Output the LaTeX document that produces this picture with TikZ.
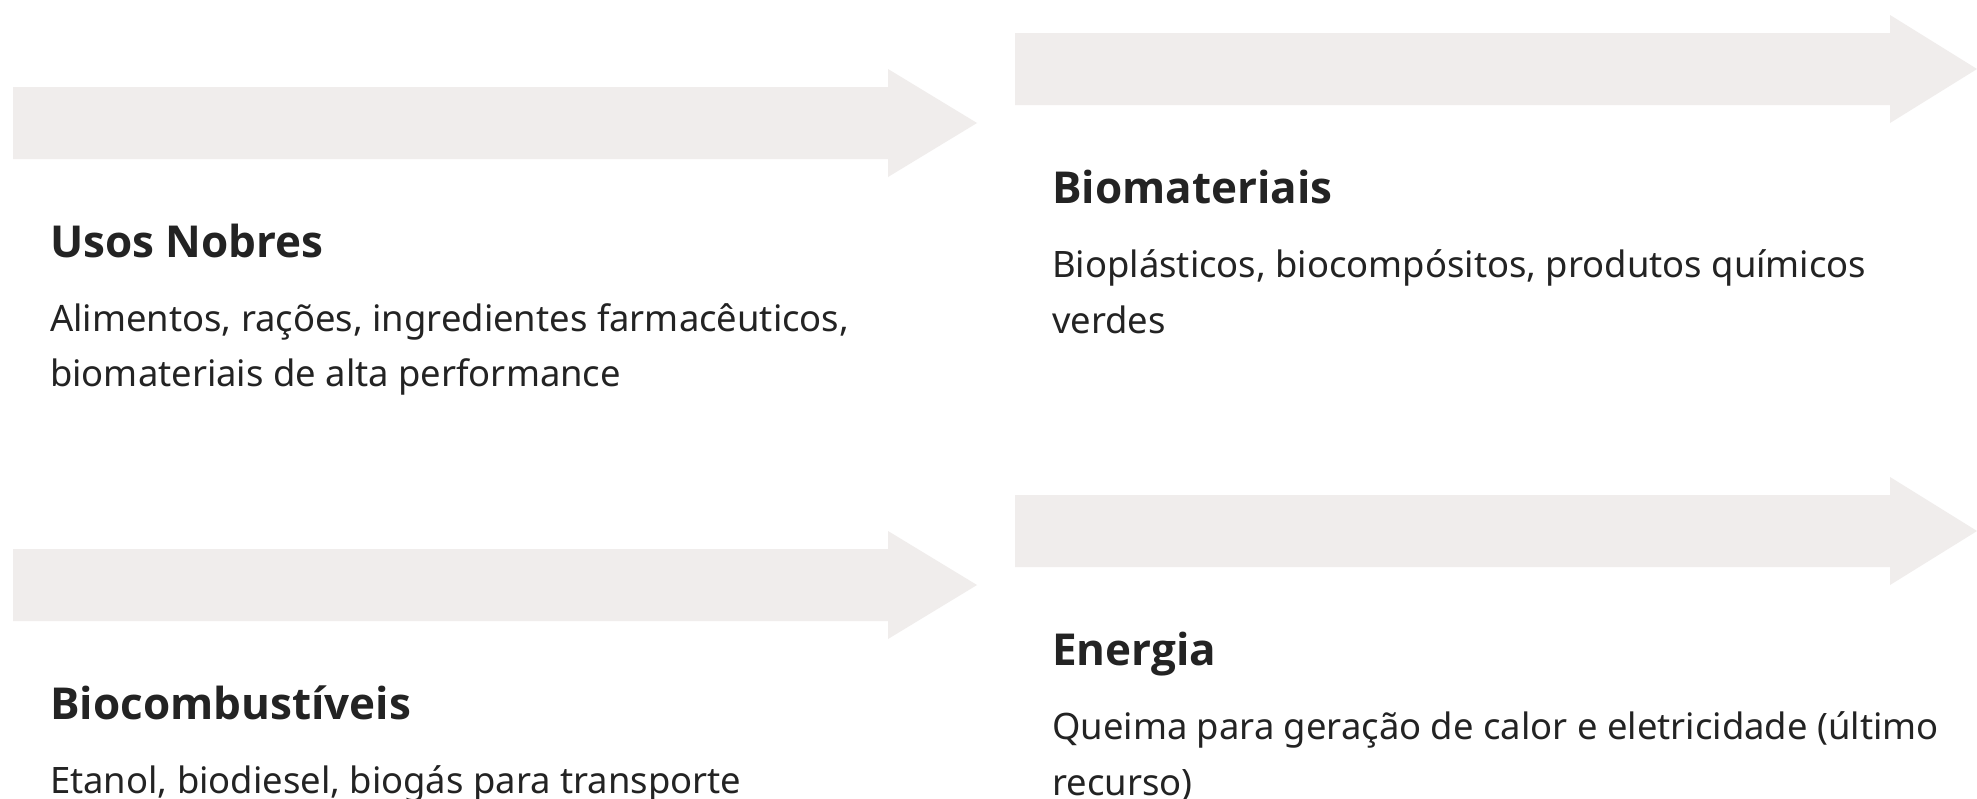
\documentclass[tikz,border=0pt]{standalone}
\usepackage{fontspec}
\setmainfont{Noto Sans}
\newfontfamily\titlefont{Open Sans}
\definecolor{arrowfill}{HTML}{F0EDEC}
\definecolor{ink}{HTML}{232323}
\tikzset{
  flowarrow/.style={fill=arrowfill, draw=none},
  titletext/.style={anchor=base west, inner sep=0pt, text=ink, font=\titlefont\fontsize{44}{54}\selectfont\bfseries},
  bodytext/.style={anchor=base west, inner sep=0pt, text=ink, font=\fontsize{36.4}{54}\selectfont}
}
\begin{document}
\begin{tikzpicture}[x=1pt,y=-1pt]
\useasboundingbox[fill=white] (0,0) rectangle (1977,798);
% arrows: body half-height 36, head half-height 54
\foreach \xl/\xb/\xt/\yc [count=\i] in {13/888/977/123, 1015/1890/1977/69, 13/888/977/585, 1015/1890/1977/531}{
  \fill[flowarrow] (\xl,\yc-36) -- (\xb,\yc-36) -- (\xb,\yc-54) -- (\xt,\yc) -- (\xb,\yc+54) -- (\xb,\yc+36) -- (\xl,\yc+36) -- cycle;
}
% Usos Nobres
\node[titletext] (t1) at (50,257.5) {Usos Nobres};
\node[bodytext] (b1a) at (50,331) {Alimentos, rações, ingredientes farmacêuticos,};
\node[bodytext] (b1b) at (50,386) {biomateriais de alta performance};
% Biomateriais
\node[titletext] (t2) at (1052,203.5) {Biomateriais};
\node[bodytext] (b2a) at (1052,277) {Bioplásticos, biocompósitos, produtos químicos};
\node[bodytext] (b2b) at (1052,333) {verdes};
% Biocombustiveis
\node[titletext] (t3) at (50,719.5) {Biocombustíveis};
\node[bodytext] (b3a) at (50,793) {Etanol, biodiesel, biogás para transporte};
% Energia
\node[titletext] (t4) at (1052,665.5) {Energia};
\node[bodytext] (b4a) at (1052,739) {Queima para geração de calor e eletricidade (último};
\node[bodytext] (b4b) at (1052,795) {recurso)};
\end{tikzpicture}
\end{document}
